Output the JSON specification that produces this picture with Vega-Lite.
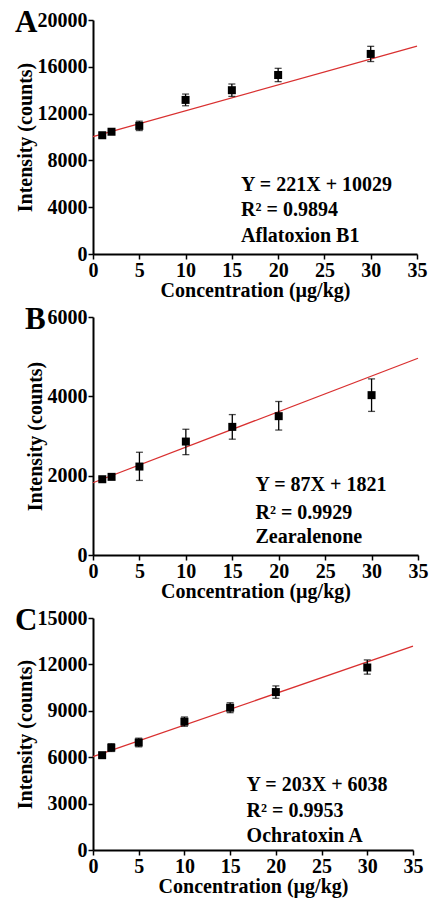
{
  "$schema": "https://vega.github.io/schema/vega-lite/v6.json",
  "padding": {"top": 7, "left": 15, "right": 5, "bottom": 2},
  "background": "white",
  "spacing": 4,
  "config": {
    "view": {"stroke": null},
    "font": "Liberation Serif",
    "axis": {
      "grid": false,
      "domainColor": "black",
      "domainWidth": 2,
      "tickColor": "black",
      "tickWidth": 1.5,
      "labelFont": "Liberation Serif",
      "labelFontWeight": "bold",
      "labelFontSize": 20,
      "labelColor": "black",
      "labelFlush": false,
      "labelOverlap": false,
      "titleFont": "Liberation Serif",
      "titleFontWeight": "bold",
      "titleFontSize": 20,
      "titleColor": "black"
    },
    "title": {"font": "Liberation Serif", "fontWeight": "bold", "fontSize": 31, "color": "black", "anchor": "start", "frame": "bounds", "baseline": "alphabetic", "offset": -29}
  },
  "datasets": {
    "ptsA": [
      {"x": 1, "y": 10150, "lo": 9950, "hi": 10350},
      {"x": 2, "y": 10450, "lo": 10250, "hi": 10650},
      {"x": 5, "y": 10950, "lo": 10550, "hi": 11350},
      {"x": 10, "y": 13170, "lo": 12670, "hi": 13670},
      {"x": 15, "y": 14000, "lo": 13470, "hi": 14530},
      {"x": 20, "y": 15300, "lo": 14730, "hi": 15870},
      {"x": 30, "y": 17100, "lo": 16450, "hi": 17750}
    ],
    "ptsB": [
      {"x": 1, "y": 1910, "lo": 1860, "hi": 1960},
      {"x": 2, "y": 1970, "lo": 1910, "hi": 2030},
      {"x": 5, "y": 2230, "lo": 1880, "hi": 2590},
      {"x": 10, "y": 2860, "lo": 2530, "hi": 3170},
      {"x": 15, "y": 3230, "lo": 2920, "hi": 3540},
      {"x": 20, "y": 3500, "lo": 3150, "hi": 3870},
      {"x": 30, "y": 4030, "lo": 3620, "hi": 4440}
    ],
    "ptsC": [
      {"x": 1, "y": 6130, "lo": 5980, "hi": 6280},
      {"x": 2, "y": 6620, "lo": 6370, "hi": 6870},
      {"x": 5, "y": 6950, "lo": 6670, "hi": 7230},
      {"x": 10, "y": 8300, "lo": 8000, "hi": 8600},
      {"x": 15, "y": 9200, "lo": 8880, "hi": 9520},
      {"x": 20, "y": 10210, "lo": 9810, "hi": 10610},
      {"x": 30, "y": 11800, "lo": 11370, "hi": 12290}
    ],
    "fitA": [{"x": 0, "y": 10029}, {"x": 35, "y": 17764}],
    "fitB": [{"x": 0, "y": 1821}, {"x": 35, "y": 4960}],
    "fitC": [{"x": 0, "y": 6038}, {"x": 35, "y": 13180}],
    "txtA": [
      {"x": 16.0, "y": 5410, "t": "Y = 221X + 10029"},
      {"x": 16.0, "y": 3210, "t": "R² = 0.9894"},
      {"x": 16.0, "y": 1050, "t": "Aflatoxion B1"}
    ],
    "txtB": [
      {"x": 17.5, "y": 1618, "t": "Y = 87X + 1821"},
      {"x": 17.5, "y": 918, "t": "R² = 0.9929"},
      {"x": 17.5, "y": 312, "t": "Zearalenone"}
    ],
    "txtC": [
      {"x": 16.8, "y": 3800, "t": "Y = 203X + 6038"},
      {"x": 16.8, "y": 2137, "t": "R² = 0.9953"},
      {"x": 16.8, "y": 534, "t": "Ochratoxin A"}
    ]
  },
  "vconcat": [
    {
      "width": 324, "height": 234,
      "title": {"text": "A"},
      "layer": [
        {
          "data": {"name": "fitA"},
          "mark": {"type": "line", "color": "#d93030", "strokeWidth": 1.3},
          "encoding": {
            "x": {"field": "x", "type": "quantitative", "scale": {"domain": [0, 35], "nice": false},
              "axis": {"title": "Concentration (µg/kg)", "values": [0,2.5,5,7.5,10,12.5,15,17.5,20,22.5,25,27.5,30,32.5,35],
                "labelExpr": "datum.value % 5 === 0 ? datum.label : ''",
                "tickSize": {"condition": {"test": "datum.value % 5 !== 0", "value": 3}, "value": 5},
                "labelPadding": 1, "titlePadding": 0}},
            "y": {"field": "y", "type": "quantitative", "scale": {"domain": [0, 20000], "nice": false},
              "axis": {"title": "Intensity (counts)", "format": "d", "values": [0,2000,4000,6000,8000,10000,12000,14000,16000,18000,20000],
                "labelExpr": "datum.value % 4000 === 0 ? datum.label : ''",
                "tickSize": {"condition": {"test": "datum.value % 4000 !== 0", "value": 3}, "value": 5},
                "labelPadding": 1, "titlePadding": 2}}
          }
        },
        {
          "data": {"name": "ptsA"},
          "mark": {"type": "rule", "color": "black", "strokeWidth": 1.3},
          "encoding": {"x": {"field": "x", "type": "quantitative"}, "y": {"field": "lo", "type": "quantitative"}, "y2": {"field": "hi"}}
        },
        {
          "data": {"name": "ptsA"},
          "mark": {"type": "tick", "orient": "horizontal", "color": "black", "size": 7, "thickness": 1.3},
          "encoding": {"x": {"field": "x", "type": "quantitative"}, "y": {"field": "lo", "type": "quantitative"}}
        },
        {
          "data": {"name": "ptsA"},
          "mark": {"type": "tick", "orient": "horizontal", "color": "black", "size": 7, "thickness": 1.3},
          "encoding": {"x": {"field": "x", "type": "quantitative"}, "y": {"field": "hi", "type": "quantitative"}}
        },
        {
          "data": {"name": "ptsA"},
          "mark": {"type": "point", "shape": "square", "filled": true, "size": 64, "color": "black", "opacity": 1},
          "encoding": {"x": {"field": "x", "type": "quantitative"}, "y": {"field": "y", "type": "quantitative"}}
        },
        {
          "data": {"name": "txtA"},
          "mark": {"type": "text", "align": "left", "baseline": "alphabetic", "fontSize": 20, "fontWeight": "bold", "font": "Liberation Serif", "color": "black"},
          "encoding": {"x": {"field": "x", "type": "quantitative"}, "y": {"field": "y", "type": "quantitative"}, "text": {"field": "t"}}
        }
      ]
    },
    {
      "width": 325, "height": 238,
      "title": {"text": "B"},
      "layer": [
        {
          "data": {"name": "fitB"},
          "mark": {"type": "line", "color": "#d93030", "strokeWidth": 1.3},
          "encoding": {
            "x": {"field": "x", "type": "quantitative", "scale": {"domain": [0, 35], "nice": false},
              "axis": {"title": "Concentration (µg/kg)", "values": [0,2.5,5,7.5,10,12.5,15,17.5,20,22.5,25,27.5,30,32.5,35],
                "labelExpr": "datum.value % 5 === 0 ? datum.label : ''",
                "tickSize": {"condition": {"test": "datum.value % 5 !== 0", "value": 3}, "value": 5},
                "labelPadding": 1, "titlePadding": 0}},
            "y": {"field": "y", "type": "quantitative", "scale": {"domain": [0, 6000], "nice": false},
              "axis": {"title": "Intensity (counts)", "format": "d", "values": [0,500,1000,1500,2000,2500,3000,3500,4000,4500,5000,5500,6000],
                "labelExpr": "datum.value % 1000 === 0 ? datum.label : ''",
                "tickSize": {"condition": {"test": "datum.value % 1000 !== 0", "value": 3}, "value": 5},
                "labelPadding": 1, "titlePadding": 2}}
          }
        },
        {
          "data": {"name": "ptsB"},
          "mark": {"type": "rule", "color": "black", "strokeWidth": 1.3},
          "encoding": {"x": {"field": "x", "type": "quantitative"}, "y": {"field": "lo", "type": "quantitative"}, "y2": {"field": "hi"}}
        },
        {
          "data": {"name": "ptsB"},
          "mark": {"type": "tick", "orient": "horizontal", "color": "black", "size": 7, "thickness": 1.3},
          "encoding": {"x": {"field": "x", "type": "quantitative"}, "y": {"field": "lo", "type": "quantitative"}}
        },
        {
          "data": {"name": "ptsB"},
          "mark": {"type": "tick", "orient": "horizontal", "color": "black", "size": 7, "thickness": 1.3},
          "encoding": {"x": {"field": "x", "type": "quantitative"}, "y": {"field": "hi", "type": "quantitative"}}
        },
        {
          "data": {"name": "ptsB"},
          "mark": {"type": "point", "shape": "square", "filled": true, "size": 64, "color": "black", "opacity": 1},
          "encoding": {"x": {"field": "x", "type": "quantitative"}, "y": {"field": "y", "type": "quantitative"}}
        },
        {
          "data": {"name": "txtB"},
          "mark": {"type": "text", "align": "left", "baseline": "alphabetic", "fontSize": 20, "fontWeight": "bold", "font": "Liberation Serif", "color": "black"},
          "encoding": {"x": {"field": "x", "type": "quantitative"}, "y": {"field": "y", "type": "quantitative"}, "text": {"field": "t"}}
        }
      ]
    },
    {
      "width": 320, "height": 232,
      "title": {"text": "C"},
      "layer": [
        {
          "data": {"name": "fitC"},
          "mark": {"type": "line", "color": "#d93030", "strokeWidth": 1.3},
          "encoding": {
            "x": {"field": "x", "type": "quantitative", "scale": {"domain": [0, 35], "nice": false},
              "axis": {"title": "Concentration (µg/kg)", "values": [0,2.5,5,7.5,10,12.5,15,17.5,20,22.5,25,27.5,30,32.5,35],
                "labelExpr": "datum.value % 5 === 0 ? datum.label : ''",
                "tickSize": {"condition": {"test": "datum.value % 5 !== 0", "value": 3}, "value": 5},
                "labelPadding": 1, "titlePadding": 0}},
            "y": {"field": "y", "type": "quantitative", "scale": {"domain": [0, 15000], "nice": false},
              "axis": {"title": "Intensity (counts)", "format": "d", "values": [0,1500,3000,4500,6000,7500,9000,10500,12000,13500,15000],
                "labelExpr": "datum.value % 3000 === 0 ? datum.label : ''",
                "tickSize": {"condition": {"test": "datum.value % 3000 !== 0", "value": 3}, "value": 5},
                "labelPadding": 1, "titlePadding": 2}}
          }
        },
        {
          "data": {"name": "ptsC"},
          "mark": {"type": "rule", "color": "black", "strokeWidth": 1.3},
          "encoding": {"x": {"field": "x", "type": "quantitative"}, "y": {"field": "lo", "type": "quantitative"}, "y2": {"field": "hi"}}
        },
        {
          "data": {"name": "ptsC"},
          "mark": {"type": "tick", "orient": "horizontal", "color": "black", "size": 7, "thickness": 1.3},
          "encoding": {"x": {"field": "x", "type": "quantitative"}, "y": {"field": "lo", "type": "quantitative"}}
        },
        {
          "data": {"name": "ptsC"},
          "mark": {"type": "tick", "orient": "horizontal", "color": "black", "size": 7, "thickness": 1.3},
          "encoding": {"x": {"field": "x", "type": "quantitative"}, "y": {"field": "hi", "type": "quantitative"}}
        },
        {
          "data": {"name": "ptsC"},
          "mark": {"type": "point", "shape": "square", "filled": true, "size": 64, "color": "black", "opacity": 1},
          "encoding": {"x": {"field": "x", "type": "quantitative"}, "y": {"field": "y", "type": "quantitative"}}
        },
        {
          "data": {"name": "txtC"},
          "mark": {"type": "text", "align": "left", "baseline": "alphabetic", "fontSize": 20, "fontWeight": "bold", "font": "Liberation Serif", "color": "black"},
          "encoding": {"x": {"field": "x", "type": "quantitative"}, "y": {"field": "y", "type": "quantitative"}, "text": {"field": "t"}}
        }
      ]
    }
  ]
}
